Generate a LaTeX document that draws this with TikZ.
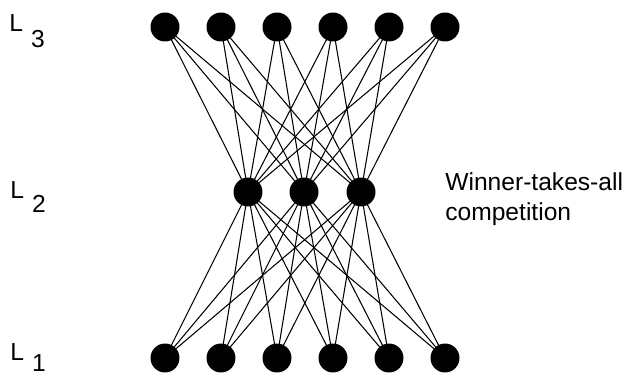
\documentclass[tikz,border=0pt]{standalone}
\usepackage{fontspec}
\setmainfont{Liberation Sans}
\usepackage{tikz}
\usetikzlibrary{positioning}

\begin{document}
\begin{tikzpicture}[x=0.02cm,y=-0.02cm,
    unit/.style={circle, fill=black, inner sep=0pt, minimum size=0.58cm},
    lbl/.style={anchor=base west, inner sep=0pt, font=\fontsize{14}{17}\selectfont}]

    \useasboundingbox (0,0) rectangle (629,375);

    % Draw the three layers of units
    \foreach \i/\x in {1/165,2/221,3/277,4/333,5/389,6/445} {
        \node[unit] (t\i) at (\x,27) {};
        \node[unit] (b\i) at (\x,358) {};
    }
    \foreach \j/\x in {1/248,2/304,3/361}
        \node[unit] (m\j) at (\x,192) {};

    % Connect every unit to every unit of the middle layer
    \foreach \i in {1,...,6}
        \foreach \j in {1,2,3} {
            \draw[line width=0.6pt] (t\i.center) -- (m\j.center);
            \draw[line width=0.6pt] (b\i.center) -- (m\j.center);
        }

    % Layer names
    \node[lbl] (l3) at (9,32) {L\kern0.16cm\raisebox{-0.32cm}{3}};
    \node[lbl] (l2) at (10,198) {L\kern0.16cm\raisebox{-0.30cm}{2}};
    \node[lbl] (l1) at (10,360) {L\kern0.16cm\raisebox{-0.22cm}{1}};

    % Competition in the middle layer
    \node[lbl, align=left] (wta) at (445,220) {Winner-takes-all\\competition};

\end{tikzpicture}
\end{document}
